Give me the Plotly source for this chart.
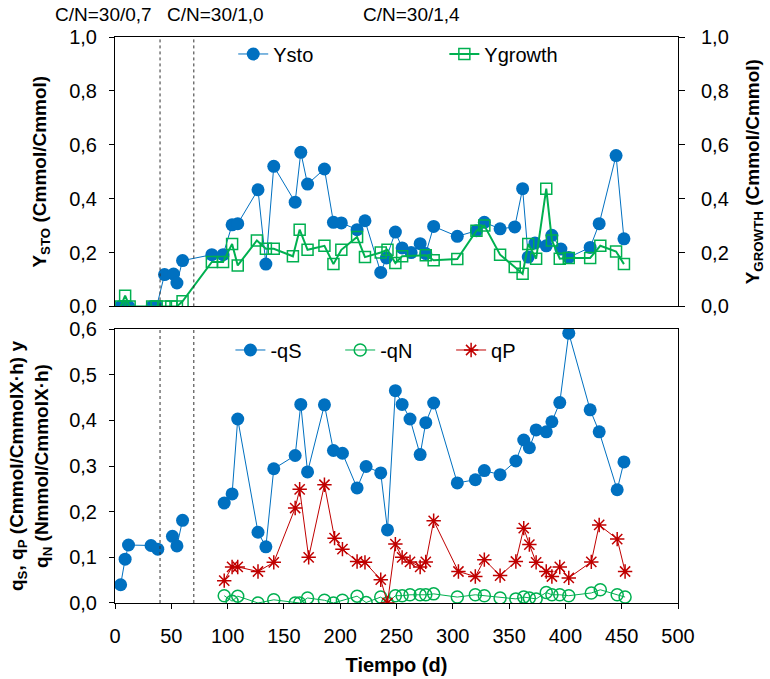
import plotly.graph_objects as go

# ---- data ----
ysto_x = [5, 8, 12, 33, 37, 44, 52, 55, 60, 86, 96, 104, 109, 127, 134, 141, 160, 165, 171, 186,
          194, 201, 215, 222, 236, 241, 249, 255, 263, 271, 276, 283, 304, 321, 328, 342, 355, 362,
          367, 373, 383, 388, 396, 403, 422, 430, 445, 452]
ysto_y = [0, 0, 0, 0, 0, 0.118, 0.12, 0.087, 0.17, 0.192, 0.192, 0.303, 0.307, 0.433, 0.157, 0.52,
          0.387, 0.572, 0.454, 0.51, 0.312, 0.31, 0.285, 0.318, 0.126, 0.18, 0.276, 0.217, 0.2, 0.233,
          0.196, 0.297, 0.26, 0.281, 0.312, 0.288, 0.295, 0.437, 0.183, 0.235, 0.225, 0.264, 0.213,
          0.182, 0.219, 0.307, 0.56, 0.251]

ygr_x = [5, 9, 13, 33, 37, 44, 50, 55, 60, 86, 96, 104, 109, 126, 134, 141, 158, 164, 171, 186,
         194, 201, 215, 222, 236, 242, 249, 255, 276, 283, 304, 321, 328, 342, 355, 362, 367, 374,
         383, 388, 395, 403, 422, 431, 445, 452]
ygr_y = [0, 0.04, 0, 0, 0, 0, 0, 0, 0.019, 0.165, 0.165, 0.232, 0.152, 0.245, 0.214, 0.214, 0.186,
         0.285, 0.21, 0.225, 0.157, 0.21, 0.258, 0.183, 0.2, 0.21, 0.161, 0.186, 0.19, 0.171, 0.176,
         0.281, 0.3, 0.192, 0.146, 0.121, 0.232, 0.177, 0.437, 0.245, 0.177, 0.18, 0.18, 0.225,
         0.204, 0.157]

qs_x = [5, 9, 12, 32, 38, None, 51, 55, 60, None, 97, 104, 109, 127, 134, 141, 160, 165, 171, 186,
        194, 202, 215, 223, 236, 242, 249, 255, 262, 271, 276, 283, 304, 320, 328, 342, 356, 363,
        368, 374, 383, 388, 395, 403, 422, 430, 446, 452]
qs_y = [0.04, 0.096, 0.127, 0.126, 0.118, None, 0.146, 0.125, 0.181, None, 0.219, 0.239, 0.403,
        0.155, 0.123, 0.294, 0.323, 0.435, 0.287, 0.434, 0.334, 0.328, 0.252, 0.299, 0.285, 0.16,
        0.465, 0.435, 0.403, 0.325, 0.395, 0.438, 0.263, 0.27, 0.29, 0.281, 0.311, 0.357, 0.34,
        0.379, 0.375, 0.397, 0.439, 0.591, 0.423, 0.375, 0.248, 0.309]

qn_x = [97, 104, 109, 127, 141, 160, 164, 171, 186, 194, 202, 215, 223, 236, 242, 249, 255, 262,
        271, 276, 283, 304, 320, 328, 342, 356, 363, 368, 374, 383, 388, 395, 403, 423, 431, 446, 453]
qn_y = [0.016, 0.004, 0.015, 0.0, 0.007, 0.0, 0.0, 0.011, 0.006, 0.0, 0.006, 0.015, 0.001, 0.013,
        0.0, 0.016, 0.016, 0.018, 0.018, 0.018, 0.02, 0.013, 0.018, 0.016, 0.011, 0.009, 0.013,
        0.011, 0.009, 0.023, 0.018, 0.018, 0.016, 0.022, 0.029, 0.018, 0.013]

qp_x = [97, 104, 109, 127, 141, 160, 164, 172, 186, 195, 202, 215, 222, 236, 242, 249, 255, 262,
        271, 276, 283, 305, 320, 328, 342, 356, 363, 368, 374, 383, 388, 395, 403, 423, 430, 446, 453]
qp_y = [0.049, 0.079, 0.079, 0.069, 0.089, 0.208, 0.249, 0.1, 0.259, 0.142, 0.118, 0.091, 0.089,
        0.051, 0.0, 0.129, 0.1, 0.09, 0.079, 0.09, 0.18, 0.069, 0.058, 0.095, 0.06, 0.091, 0.164,
        0.128, 0.089, 0.069, 0.058, 0.079, 0.055, 0.09, 0.171, 0.14, 0.069]

phase_lines = [40, 70]
phase_labels = ["C/N=30/0,7", "C/N=30/1,0", "C/N=30/1,4"]
phase_label_x = [-0.021, 0.179, 0.526]

BLUE = "#0070C0"
GREEN = "#00B050"
RED = "#C00000"
FONT = "Liberation Sans, Arial, sans-serif"

fig = go.Figure()

fig.add_trace(go.Scatter(x=ysto_x, y=ysto_y, name="Ysto", mode="lines+markers",
                         line=dict(color=BLUE, width=1),
                         marker=dict(symbol="circle", size=13, color=BLUE),
                         xaxis="x", yaxis="y", legend="legend", showlegend=True))
fig.add_trace(go.Scatter(x=ygr_x, y=ygr_y, name="Ygrowth", mode="lines+markers",
                         line=dict(color=GREEN, width=2),
                         marker=dict(symbol="square-open", size=11, color=GREEN, line=dict(width=1.5)),
                         xaxis="x", yaxis="y3", legend="legend2", showlegend=True))
fig.add_trace(go.Scatter(x=qs_x, y=qs_y, name="-qS", mode="lines+markers",
                         line=dict(color=BLUE, width=1),
                         marker=dict(symbol="circle", size=13, color=BLUE),
                         xaxis="x2", yaxis="y2", legend="legend3", connectgaps=False, showlegend=True))
fig.add_trace(go.Scatter(x=qn_x, y=qn_y, name="-qN", mode="lines+markers",
                         line=dict(color=GREEN, width=1),
                         marker=dict(symbol="circle-open", size=12, color=GREEN, line=dict(width=1.5)),
                         xaxis="x2", yaxis="y2", legend="legend4", showlegend=True))
fig.add_trace(go.Scatter(x=qp_x, y=qp_y, name="qP", mode="lines+markers",
                         line=dict(color=RED, width=1),
                         marker=dict(symbol="asterisk-open", size=12, color=RED, line=dict(width=1.5, color=RED)),
                         xaxis="x2", yaxis="y2", legend="legend5", showlegend=True))

shapes = []
for xv in phase_lines:
    for xr, yr in [("x", "y domain"), ("x2", "y2 domain")]:
        shapes.append(dict(type="line", xref=xr, yref=yr,
                           x0=xv, x1=xv, y0=0, y1=1,
                           line=dict(color="#303030", width=1, dash="dot")))

annotations = []
for lab, xp in zip(phase_labels, phase_label_x):
    annotations.append(dict(text=lab, x=xp, y=1.039, xref="paper", yref="paper",
                            showarrow=False, xanchor="center", yanchor="middle",
                            font=dict(size=19, color="black", family=FONT)))

axis_common = dict(showline=True, linecolor="black", linewidth=1, mirror=True, automargin=False,
                   ticks="outside", ticklen=5, tickcolor="black", showgrid=False,
                   zeroline=False, tickfont=dict(size=20, color="black", family=FONT))

leg_common = dict(orientation="h", bgcolor="rgba(0,0,0,0)", font=dict(size=20, color="black", family=FONT),
                  yanchor="middle", xanchor="left")

fig.update_layout(
    width=770, height=679,
    margin=dict(l=115, r=92, t=37, b=76, autoexpand=False),
    paper_bgcolor="white", plot_bgcolor="white",
    separators=", ",
    showlegend=True,
    font=dict(family=FONT, color="black"),
    xaxis=dict(axis_common, domain=[0, 1], range=[0, 500], anchor="y", showticklabels=False,
               ticks="", dtick=50),
    yaxis=dict(axis_common, domain=[0.524, 1], range=[0, 1], dtick=0.2, tickformat=".1f",
               anchor="x", mirror=False, ticklabelstandoff=8,
               title=dict(text="<b>Y<sub>STO</sub> (Cmmol/Cmmol)</b>", font=dict(size=19, family=FONT),
                          standoff=17)),
    yaxis3=dict(axis_common, overlaying="y", side="right", range=[0, 1], dtick=0.2, tickformat=".1f",
                anchor="x", mirror=False, ticklen=6, ticklabelstandoff=12,
                title=dict(text="<b>Y<sub>GROWTH</sub> (Cmmol/Cmmol)</b>", font=dict(size=19, family=FONT),
                           standoff=17)),
    xaxis2=dict(axis_common, domain=[0, 1], range=[0, 500], dtick=50, anchor="y2", ticklabelstandoff=10,
                title=dict(text="<b>Tiempo (d)</b>", font=dict(size=20, family=FONT), standoff=11)),
    yaxis2=dict(axis_common, domain=[0, 0.484], range=[0, 0.6], dtick=0.1, tickformat=".1f",
                anchor="x2", ticklabelstandoff=8,
                title=dict(text="<b>q<sub>S</sub>, q<sub>P</sub> (Cmmol/CmmolX·h) y<br>q<sub>N</sub> (Nmmol/CmmolX·h)</b>",
                           font=dict(size=19, family=FONT), standoff=15)),
    legend=dict(leg_common, x=0.21, y=0.97),
    legend2=dict(leg_common, x=0.585, y=0.97),
    legend3=dict(leg_common, x=0.205, y=0.447),
    legend4=dict(leg_common, x=0.4, y=0.447),
    legend5=dict(leg_common, x=0.597, y=0.447),
    shapes=shapes,
    annotations=annotations,
)

fig.write_html("out.html")
